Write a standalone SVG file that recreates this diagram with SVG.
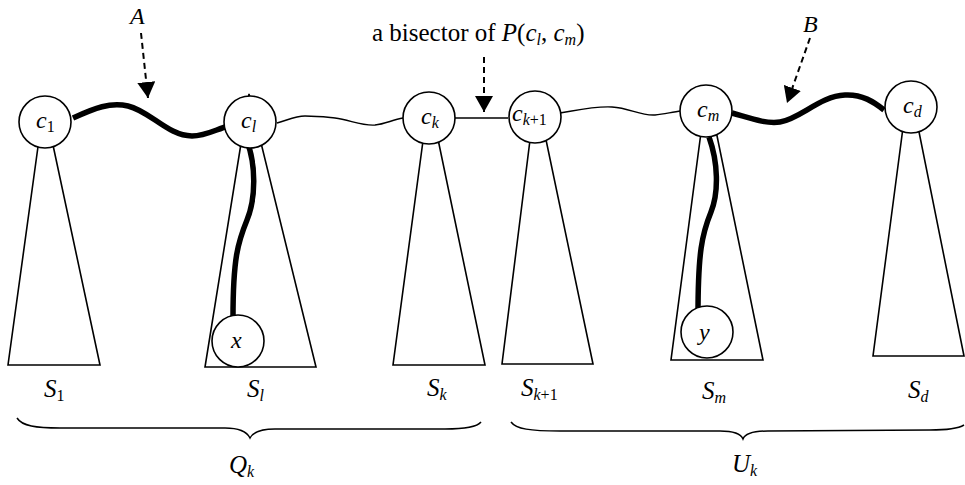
<svg xmlns="http://www.w3.org/2000/svg" width="965" height="485" viewBox="0 0 965 485">
<style>
.tri{fill:#fff;stroke:#000;stroke-width:1.6}
.node{fill:#fff;stroke:#000;stroke-width:1.6}
.thin{fill:none;stroke:#000;stroke-width:1.4}
.thick{fill:none;stroke:#000;stroke-width:5.5}
.dash{fill:none;stroke:#000;stroke-width:2;stroke-dasharray:6,4}
.brace{fill:none;stroke:#000;stroke-width:1.5}
text{font-family:"Liberation Serif","Times New Roman",serif;fill:#000}
.m{font-style:italic}
.up{font-style:normal}
.lbl{font-size:24px}
.big{font-size:25px}
.sub{font-size:16px}
</style>
<defs>
<marker id="ah" markerWidth="18" markerHeight="18" refX="16" refY="9" orient="auto" markerUnits="userSpaceOnUse">
<path d="M0,0 L16,9 L0,18 Z" fill="#000"/>
</marker>
</defs>

<g id="S1"><polygon class="tri" points="44,103 8,365 100,365"/></g>
<g id="Sl"><polygon class="tri" points="249,94 205,367 316,367"/></g>
<g id="Sk"><polygon class="tri" points="429,96 393,365 485,365"/></g>
<g id="Sk1"><polygon class="tri" points="536,92 502,364 593,364"/></g>
<g id="Sm"><polygon class="tri" points="707,87 671,360 763,360"/></g>
<g id="Sd"><polygon class="tri" points="909,82 873,356 964,356"/></g>

<g id="connectors">
<path class="thick" d="M73,118 C95,108 110,102 128,106 C150,111 168,136 192,136 C205,136 215,130 228,126"/>
<path class="thin" d="M277,123 C288,120 295,116 305,116 C318,116 325,117 335,118 C350,120 362,126 375,125 C385,124 392,120 403,118"/>
<path class="thin" d="M455,118 L508,118"/>
<path class="thin" d="M560,113 C578,110 595,106 612,107 C630,108 640,116 655,115 C665,114 672,112 681,111"/>
<path class="thick" d="M732,113 C750,118 765,124 780,122 C800,119 820,96 845,95 C862,94 874,102 884,110"/>
<path class="thick" d="M247,141 C256,165 256,198 247,220 C238,242 233,258 233,318"/>
<path class="thick" d="M709,137 C718,162 719,192 711,212 C702,234 698,252 698,315"/>
<path class="dash" d="M141,33 L148,98" marker-end="url(#ah)"/>
<path class="dash" d="M484,57 L484,112" marker-end="url(#ah)"/>
<path class="dash" d="M810,38 L787,103" marker-end="url(#ah)"/>
<path class="brace" d="M17,418 C22,426 36,428 60,428 L225,428 C240,428 247,432 250,438 C253,432 260,429 275,429 L445,429 C465,429 477,427 481,422"/>
<path class="brace" d="M511,422 C516,429 530,431 560,431 L720,431 C734,431 741,434 743,439 C745,434 752,431 768,431 L930,430 C950,430 959,428 964,425"/>
</g>

<g id="c1"><circle class="node" cx="45" cy="122" r="26"/><text class="m lbl" x="36" y="128">c<tspan class="sub up" dy="4">1</tspan></text></g>
<g id="cl"><circle class="node" cx="250" cy="122" r="26"/><text class="m lbl" x="241" y="128">c<tspan class="sub" dy="4">l</tspan></text></g>
<g id="ck"><circle class="node" cx="429" cy="118" r="26"/><text class="m lbl" x="421" y="124">c<tspan class="sub" dy="4">k</tspan></text></g>
<g id="ck1"><circle class="node" cx="535" cy="117" r="26"/><text class="m lbl" x="512" y="121">c<tspan class="sub" dy="4">k</tspan><tspan class="sub up">+1</tspan></text></g>
<g id="cm"><circle class="node" cx="706" cy="111" r="26"/><text class="m lbl" x="697" y="117">c<tspan class="sub" dy="4">m</tspan></text></g>
<g id="cd"><circle class="node" cx="911" cy="107" r="26"/><text class="m lbl" x="903" y="113">c<tspan class="sub" dy="4">d</tspan></text></g>
<g id="x"><circle class="node" cx="238" cy="341" r="26"/><text class="m lbl" x="231" y="348">x</text></g>
<g id="y"><circle class="node" cx="707" cy="332" r="26"/><text class="m lbl" x="699" y="340">y</text></g>

<g id="labels">
<text class="m lbl" x="130" y="24">A</text>
<text class="m lbl" x="803" y="32">B</text>
<text font-size="25" x="372" y="41">a bisector of <tspan class="m">P</tspan>(<tspan class="m">c</tspan><tspan class="m sub" dy="4">l</tspan><tspan dy="-4">, </tspan><tspan class="m">c</tspan><tspan class="m sub" dy="4">m</tspan><tspan dy="-4">)</tspan></text>
<text class="m big" x="44" y="397">S<tspan class="sub up" dy="4">1</tspan></text>
<text class="m big" x="247" y="397">S<tspan class="sub" dy="4">l</tspan></text>
<text class="m big" x="427" y="396">S<tspan class="sub" dy="4">k</tspan></text>
<text class="m big" x="521" y="396">S<tspan class="sub" dy="4">k</tspan><tspan class="sub up">+1</tspan></text>
<text class="m big" x="702" y="399">S<tspan class="sub" dy="4">m</tspan></text>
<text class="m big" x="908" y="398">S<tspan class="sub" dy="4">d</tspan></text>
<text class="m big" x="229" y="473">Q<tspan class="sub" dy="4">k</tspan></text>
<text class="m big" x="732" y="472">U<tspan class="sub" dy="4">k</tspan></text>
</g>
</svg>
